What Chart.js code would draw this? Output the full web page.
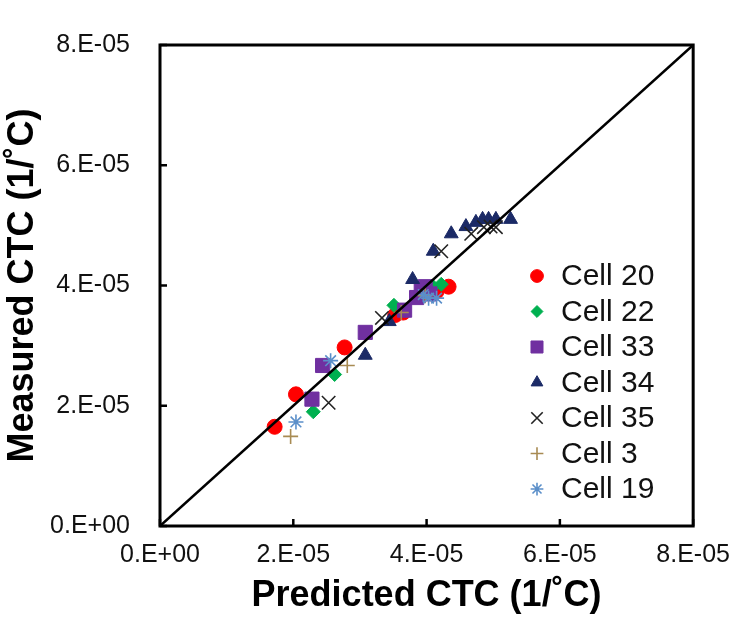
<!DOCTYPE html>
<html lang="en">
  <head>
    <meta charset="utf-8" />
    <title>Measured vs Predicted CTC</title>
    <style>
      * {
        margin: 0;
        padding: 0;
      }
      body {
        background: white;
      }
      #ctcChart {
        display: block;
      }
    </style>
  </head>
  <body>
    <canvas id="ctcChart" width="744" height="623"></canvas>

    <script src="https://cdn.jsdelivr.net/npm/chart.js"></script>

    <script>
      // data block (predicted = x, measured = y, 1/°C)
      const cell20Pred = [1.72e-5, 2.04e-5, 2.77e-5, 3.53e-5, 3.65e-5, 4.15e-5, 4.33e-5];
      const cell20Meas = [1.65e-5, 2.19e-5, 2.97e-5, 3.51e-5, 3.55e-5, 3.9e-5, 3.98e-5];

      const cell22Pred = [2.3e-5, 2.62e-5, 3.51e-5, 4.1e-5, 4.22e-5];
      const cell22Meas = [1.9e-5, 2.52e-5, 3.67e-5, 3.98e-5, 4.02e-5];

      const cell33Pred = [2.28e-5, 2.44e-5, 3.08e-5, 3.67e-5, 3.85e-5, 3.92e-5, 3.98e-5, 4.05e-5];
      const cell33Meas = [2.11e-5, 2.67e-5, 3.22e-5, 3.59e-5, 3.8e-5, 3.92e-5, 3.98e-5, 3.86e-5];

      const cell34Pred = [3.08e-5, 3.44e-5, 3.79e-5, 4.1e-5, 4.37e-5, 4.59e-5, 4.74e-5, 4.84e-5, 4.93e-5, 5.04e-5, 5.26e-5];
      const cell34Meas = [2.84e-5, 3.4e-5, 4.1e-5, 4.57e-5, 4.86e-5, 4.98e-5, 5.05e-5, 5.1e-5, 5.1e-5, 5.1e-5, 5.1e-5];

      const cell35Pred = [2.53e-5, 3.33e-5, 4.22e-5, 4.67e-5, 4.86e-5, 4.96e-5, 5.04e-5];
      const cell35Meas = [2.05e-5, 3.46e-5, 4.57e-5, 4.86e-5, 4.97e-5, 4.98e-5, 4.97e-5];

      const cell3Pred = [1.96e-5, 2.81e-5, 3.62e-5, 3.98e-5];
      const cell3Meas = [1.49e-5, 2.67e-5, 3.55e-5, 3.83e-5];

      const cell19Pred = [2.04e-5, 2.56e-5, 3.95e-5, 4.03e-5, 4.15e-5];
      const cell19Meas = [1.73e-5, 2.75e-5, 3.85e-5, 3.79e-5, 3.79e-5];

      const parityLine = [0, 8e-5];
      const xTickLabels = ["0.E+00", "2.E-05", "4.E-05", "6.E-05", "8.E-05"];
      const yTickLabels = ["0.E+00", "2.E-05", "4.E-05", "6.E-05", "8.E-05"];

      const FONT = '"Liberation Sans", Arial, sans-serif';

      function toPoints(xs, ys) {
        return xs.map((x, i) => ({ x: x, y: ys[i] }));
      }

      function series(label, xs, ys, style, radius, color, width) {
        return {
          label,
          data: toPoints(xs, ys),
          pointStyle: style,
          pointRadius: radius,
          pointBackgroundColor: color,
          pointBorderColor: color,
          pointBorderWidth: width,
          showLine: false,
        };
      }

      const cellSets = [
        series("Cell 20", cell20Pred, cell20Meas, "circle", 7.5, "#FF0000", 1),
        series("Cell 22", cell22Pred, cell22Meas, "rectRot", 7, "#00B050", 1),
        series("Cell 33", cell33Pred, cell33Meas, "rect", 10, "#7030A0", 1),
        series("Cell 34", cell34Pred, cell34Meas, "triangle", 8, "#1B2A66", 1),
        series("Cell 35", cell35Pred, cell35Meas, "crossRot", 9.5, "#222222", 1.6),
        series("Cell 3", cell3Pred, cell3Meas, "cross", 7.5, "#A88B53", 1.6),
        series("Cell 19", cell19Pred, cell19Meas, "star", 7.5, "#5B8FC9", 1.6),
      ];
      // later series on top, like the original
      cellSets.forEach((d, i) => (d.order = cellSets.length - i));

      const diagonal = {
        label: "1:1",
        type: "line",
        data: toPoints(parityLine, parityLine),
        borderColor: "#000000",
        borderWidth: 2.5,
        pointRadius: 0,
        order: 0,
      };

      // frame + inward tick marks
      const frameTicks = {
        id: "frameTicks",
        afterDatasetsDraw(chart) {
          const { ctx, chartArea: { top, bottom, left, right }, scales: { x, y } } = chart;
          ctx.save();
          ctx.strokeStyle = "#000";
          ctx.lineWidth = 2.5;
          x.ticks.forEach((t) => {
            const px = x.getPixelForValue(t.value);
            ctx.beginPath();
            ctx.moveTo(px, bottom);
            ctx.lineTo(px, bottom - 7);
            ctx.stroke();
          });
          y.ticks.forEach((t) => {
            const py = y.getPixelForValue(t.value);
            ctx.beginPath();
            ctx.moveTo(left, py);
            ctx.lineTo(left + 7, py);
            ctx.stroke();
          });
          ctx.lineWidth = 3;
          ctx.strokeRect(left, top, right - left, bottom - top);
          ctx.restore();
        },
      };

      // legend inside the plot, lower right
      const cellLegend = {
        id: "cellLegend",
        afterDraw(chart) {
          const ctx = chart.ctx;
          ctx.save();
          ctx.font = "30px " + FONT;
          ctx.textBaseline = "middle";
          ctx.textAlign = "left";
          cellSets.forEach((d, i) => {
            const cy = 276 + i * 35.5;
            ctx.fillStyle = d.pointBackgroundColor;
            ctx.strokeStyle = d.pointBorderColor;
            ctx.lineWidth = d.pointBorderWidth;
            Chart.helpers.drawPoint(
              ctx,
              { pointStyle: d.pointStyle, radius: d.pointRadius * 0.85, rotation: 0, borderWidth: d.pointBorderWidth },
              537,
              cy
            );
            ctx.fillStyle = "#111";
            ctx.fillText(d.label, 561, cy + 1);
          });
          ctx.restore();
        },
      };

      // config block
      const config = {
        type: "scatter",
        data: { datasets: [diagonal, ...cellSets] },
        options: {
          responsive: false,
          animation: false,
          events: [],
          layout: { padding: { left: 0, right: 44, top: 22, bottom: 0 } },
          plugins: {
            legend: { display: false },
            tooltip: { enabled: false },
          },
          scales: {
            x: {
              type: "linear",
              min: 0,
              max: 8e-5,
              afterFit(scale) {
                scale.height = 97;
              },
              grid: { display: false, drawTicks: false },
              border: { display: false },
              ticks: {
                stepSize: 2e-5,
                padding: 14,
                color: "#111",
                font: { family: FONT, size: 25 },
                maxRotation: 0,
                callback: (v, i) => xTickLabels[i],
              },
              title: {
                display: true,
                text: "Predicted CTC (1/˚C)",
                color: "#000",
                font: { family: FONT, size: 36, weight: "bold" },
                padding: { top: 0, bottom: 5 },
              },
            },
            y: {
              type: "linear",
              min: 0,
              max: 8e-5,
              afterFit(scale) {
                scale.width = 160;
              },
              grid: { display: false, drawTicks: false },
              border: { display: false },
              ticks: {
                stepSize: 2e-5,
                padding: 30,
                color: "#111",
                font: { family: FONT, size: 25 },
                callback: (v, i) => yTickLabels[i],
              },
              title: {
                display: true,
                text: "Measured CTC (1/˚C)",
                color: "#000",
                font: { family: FONT, size: 36, weight: "bold" },
                padding: { top: 1, bottom: 0 },
              },
            },
          },
        },
        plugins: [frameTicks, cellLegend],
      };

      // init render block
      const ctcChart = new Chart(document.getElementById("ctcChart"), config);
    </script>
  </body>
</html>
